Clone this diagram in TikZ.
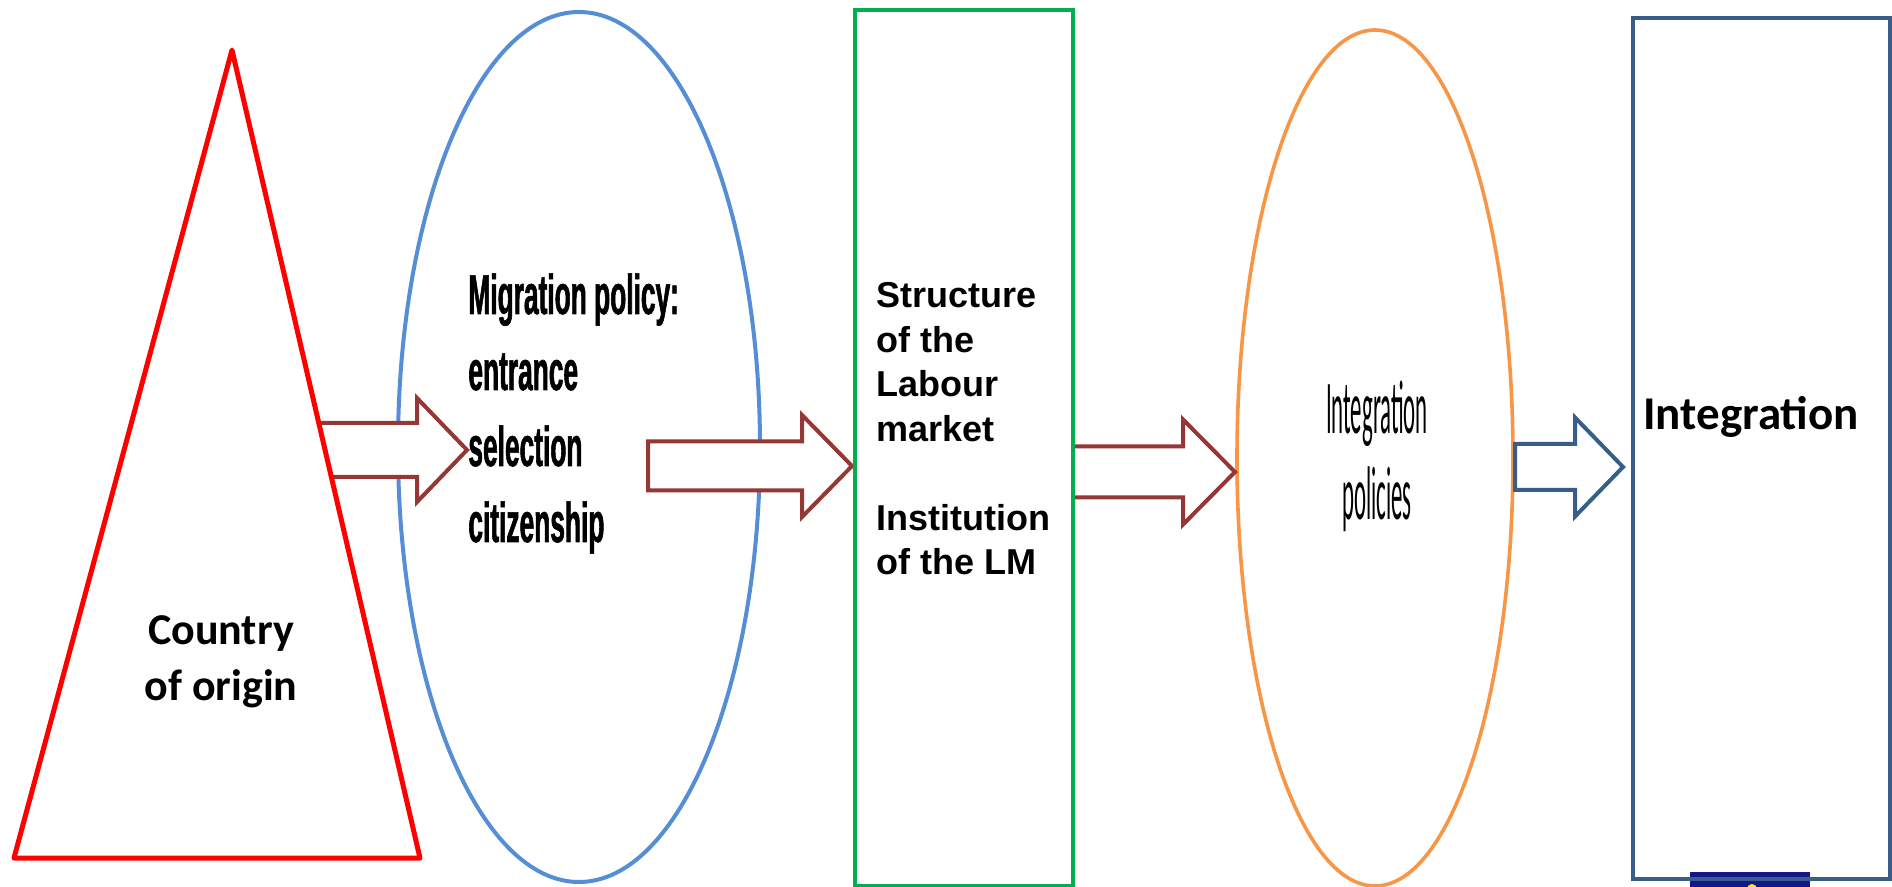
\documentclass[tikz,border=0pt]{standalone}
\usepackage{fontspec}
\usetikzlibrary{shapes.geometric}
\setmainfont{Liberation Sans}
\newfontfamily\calibri{Carlito}
\newfontfamily\calnarrow{Carlito}[FakeStretch=0.30]
\newfontfamily\arialnarrow{Liberation Sans}[FakeStretch=0.47, FakeBold=1]

\definecolor{arrowred}{RGB}{149,55,53}
\definecolor{slateblue}{RGB}{56,93,138}
\definecolor{skyblue}{RGB}{85,142,213}
\definecolor{leafgreen}{RGB}{0,176,80}
\definecolor{tangerine}{RGB}{247,150,70}
\definecolor{eunavy}{RGB}{22,22,140}

% block arrow: style, tail x, head x, tip x, mid y, half shaft, half head
\newcommand\blockarrow[7]{%
  \draw[#1] (#2,#5-#6) -- (#3,#5-#6) -- (#3,#5-#7) -- (#4,#5)
    -- (#3,#5+#7) -- (#3,#5+#6) -- (#2,#5+#6) -- cycle;}

\begin{document}
\begin{tikzpicture}[x=0.5pt, y=-0.5pt, every node/.style={inner sep=0pt},
    box/.style={draw, rectangle, fill=white, line width=2pt},
    oval/.style={draw, ellipse, line width=2pt},
    flow/.style={draw=arrowred, fill=white, line width=2pt},
    flowblue/.style={draw=slateblue, fill=white, line width=2pt}]
  \useasboundingbox (0,0) rectangle (1892,887);
  \fill[white] (0,0) rectangle (1892,887);

  % the two policy ovals
  \node[oval, draw=skyblue, minimum width=181pt, minimum height=435pt] (migr) at (579,447) {};
  \node[oval, draw=tangerine, line width=1.8pt, minimum width=138pt, minimum height=428pt] (intpol) at (1375,458) {};

  % logo strip under the last box
  \fill[eunavy] (1690,872) rectangle (1810,892);
  \fill[yellow!90!orange] (1752,889) circle (5);
  \node[box, fill=none, draw=slateblue, line width=2.2pt, minimum width=128.5pt, minimum height=430.5pt] (result) at (1761.5,448.5) {};

  % arrows
  \blockarrow{flow}{300}{417}{467}{450}{27}{52}
  \coordinate (apex) at (232,50);
  \coordinate (bl) at (14,858);
  \coordinate (br) at (420,858);
  \draw[red, line width=2.5pt, fill=white, line join=round] (apex) -- (br) -- (bl) -- cycle;
  \blockarrow{flow}{648}{802}{852}{466}{24.5}{51}
  \blockarrow{flow}{1060}{1183}{1235}{472}{25.5}{52.5}
  \node[box, draw=leafgreen, minimum width=109pt, minimum height=438pt] (labour) at (964,448) {};
  \blockarrow{flowblue}{1515}{1575}{1623}{467}{23}{49.5}

  % texts (anchored on the last baseline)
  \node[font=\calibri\bfseries\fontsize{22}{28}\selectfont, align=center, anchor=base] (origin) at (221,700) {Country\\of origin};
  \node[font=\arialnarrow\bfseries\fontsize{28}{38}\selectfont, align=left, anchor=base west] (policy) at (468,542) {Migration policy:\\entrance\\selection\\citizenship};
  \node[font=\bfseries\fontsize{18}{22.3}\selectfont, align=left, anchor=base west] (market) at (876,575) {Structure\\of the\\Labour\\market\\[22.3pt]Institution\\of the LM};
  \node[font=\calnarrow\fontsize{38}{43}\selectfont, align=center, anchor=base] (intext) at (1377,520) {Integration\\policies};
  \node[font=\calibri\bfseries\fontsize{23.5}{27}\selectfont, anchor=base west] (goal) at (1643,430) {Integration};
\end{tikzpicture}
\end{document}
